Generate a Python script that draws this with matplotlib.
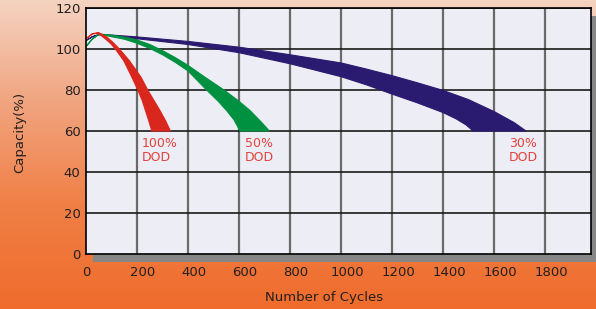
import numpy as np
import matplotlib
matplotlib.use("Agg")
import matplotlib.pyplot as plt
from matplotlib.patches import Rectangle
from matplotlib.transforms import ScaledTranslation

# capacity bands: (cycles, capacity %) for the upper and lower edge
red_top_x = [0, 25, 50, 80, 105, 131, 170, 216, 242, 265, 290, 312, 331]
red_top_y = [105, 107.5, 108, 106, 103.3, 100, 94.3, 86.2, 80, 75.2, 70, 65, 60]
red_low_x = [0, 25, 46, 65, 80, 98, 115, 148, 180, 203, 220, 233, 246, 258]
red_low_y = [105, 107.3, 107.7, 106, 104.5, 102.5, 100, 94.3, 86.2, 80, 75, 70, 65, 60]

green_top_x = [0, 25, 52, 100, 150, 200, 250, 300, 350, 400, 467, 541, 600, 643, 690, 719]
green_top_y = [101.2, 105, 107.3, 106.8, 105.8, 104.4, 102.2, 99.2, 95.8, 92, 86.2, 80,
               74.5, 70, 64, 60]
green_low_x = [0, 25, 52, 100, 150, 200, 250, 300, 350, 400, 473, 520, 551, 580, 604]
green_low_y = [101.2, 104.8, 107.3, 106, 104.8, 102.8, 100.3, 97.2, 93.5, 89.3, 80, 74.3,
               70, 65.5, 60]

navy_top_x = [0, 25, 50, 100, 200, 400, 600, 800, 1000, 1100, 1200, 1300, 1400, 1500,
              1600, 1680, 1725]
navy_top_y = [104.1, 106, 107, 106.8, 105.9, 103.7, 100.9, 97.2, 93.2, 90.2, 87, 83.5,
              79.8, 75.3, 69.5, 64, 60]
navy_low_x = [0, 25, 50, 100, 200, 400, 600, 800, 1000, 1100, 1200, 1300, 1400, 1450,
              1490, 1518]
navy_low_y = [104.1, 106, 107, 106.5, 105, 102.2, 98.2, 92.8, 86.5, 82.5, 78, 73.7, 69,
              66, 63, 60]

x_ticks = [0, 200, 400, 600, 800, 1000, 1200, 1400, 1600, 1800]
y_ticks = [0, 20, 40, 60, 80, 100, 120]

labels = ["100%\nDOD", "50%\nDOD", "30%\nDOD"]
label_pos = [(220, 57), (624, 57), (1659, 57)]

fig = plt.figure(figsize=(5.96, 3.09), dpi=100)

# orange gradient background
bg = fig.add_axes([0, 0, 1, 1], zorder=-10)
grad = np.linspace(0, 1, 256).reshape(-1, 1)
cmap = matplotlib.colors.LinearSegmentedColormap.from_list(
    "bg", ["#F5D3C1", "#F0A47F", "#F07F45", "#EF6C2C"])
bg.imshow(grad, aspect="auto", cmap=cmap, extent=[0, 1, 0, 1], origin="upper")
bg.set_axis_off()

# drop shadow behind the plot area
W, H = 596, 309
fig.patches.append(Rectangle((93 / W, (H - 262) / H), (596 - 93) / W, (262 - 16) / H,
                             transform=fig.transFigure, facecolor="#878787",
                             edgecolor="none", zorder=-5))

ax = fig.add_axes([86 / W, (H - 254) / H, (591 - 86) / W, (254 - 8) / H])
ax.set_facecolor("#EDEDF5")
ax.set_xlim(0, 1980)
ax.set_ylim(0, 120)
ax.set_xticks(x_ticks)
ax.set_yticks(y_ticks)
for v in x_ticks[1:]:
    ax.axvline(v, color="#6A6A6A", lw=1.6, zorder=1)
for v in y_ticks[1:]:
    ax.axhline(v, color="#1A1A1A", lw=1.2, zorder=1)
for s in ax.spines.values():
    s.set_color("black")
    s.set_linewidth(1.2)
    s.set_zorder(5)

bands = [(navy_top_x, navy_top_y, navy_low_x, navy_low_y, "#2A1A70"),
         (green_top_x, green_top_y, green_low_x, green_low_y, "#009140"),
         (red_top_x, red_top_y, red_low_x, red_low_y, "#D9271E")]
for tx, ty, lx, ly, c in bands:
    px = list(tx) + list(lx[::-1])
    py = list(ty) + list(ly[::-1])
    ax.fill(px, py, color=c, lw=0.8, zorder=3)

for txt, (x, y) in zip(labels, label_pos):
    ax.text(x, y, txt, color="#E2413C", fontsize=9, ha="left", va="top",
            linespacing=1.05, zorder=4)

ax.tick_params(length=0, labelsize=9.5, colors="#231F20", pad=4)
ax.tick_params(axis="x", pad=9)
off = ScaledTranslation(6 / 100, 0, fig.dpi_scale_trans)
for lab in ax.get_xticklabels()[1:]:
    lab.set_transform(lab.get_transform() + off)

fig.text(20 / W, 1 - 132 / H, "Capacity(%)", rotation=90, ha="center", va="center",
         fontsize=9.5, color="#231F20")
fig.text(324 / W, 1 - 298 / H, "Number of Cycles", ha="center", va="center",
         fontsize=9.5, color="#231F20")

fig.savefig("out.png", dpi=100)
